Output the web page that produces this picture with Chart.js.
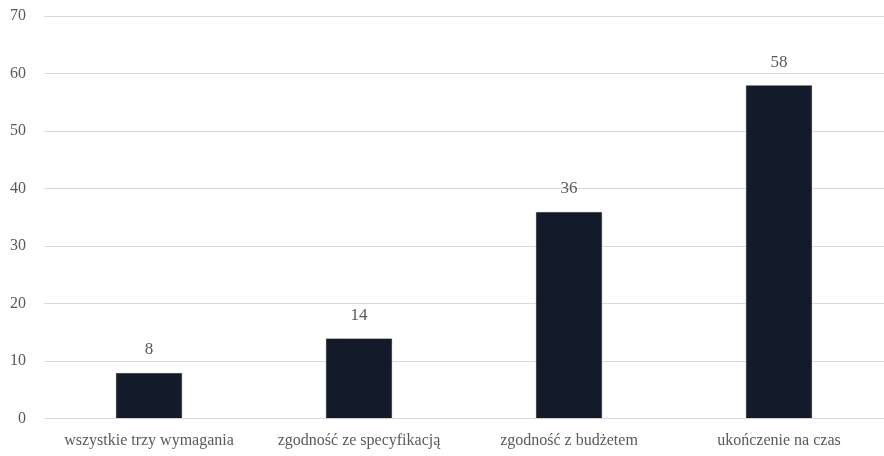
<!DOCTYPE html>
<html><head><meta charset="utf-8">
<script src="https://cdn.jsdelivr.net/npm/chart.js@4"></script>
<style>html,body{margin:0;padding:0;background:#fff}#w{width:884px;height:456px}</style>
</head><body><div id="w"><canvas id="c"></canvas></div>
<script>
const categories = ["wszystkie trzy wymagania", "zgodność ze specyfikacją", "zgodność z budżetem", "ukończenie na czas"];
const values = [8, 14, 36, 58];
const yTicks = [0, 10, 20, 30, 40, 50, 60, 70];

const FONT = "'Liberation Serif', serif";
const labelPlugin = {
  id: 'vlabels',
  afterDatasetsDraw(chart) {
    const ctx = chart.ctx;
    const meta = chart.getDatasetMeta(0);
    ctx.save();
    ctx.font = "17px " + FONT;
    ctx.fillStyle = "#595959";
    ctx.textAlign = "center";
    ctx.textBaseline = "middle";
    meta.data.forEach((bar, i) => {
      ctx.fillText(String(values[i]), bar.x, bar.y - 23);
    });
    ctx.restore();
  }
};

new Chart(document.getElementById('c'), {
  type: 'bar',
  data: {
    labels: categories,
    datasets: [{
      data: values,
      backgroundColor: '#131a2a',
      borderColor: '#9a9ca3',
      borderWidth: 0.6,
      categoryPercentage: 1,
      barPercentage: 0.318
    }]
  },
  options: {
    responsive: true,
    maintainAspectRatio: false,
    animation: false,
    layout: { padding: { top: 16, right: -3, bottom: -6, left: 0 } },
    plugins: { legend: { display: false }, tooltip: { enabled: false } },
    scales: {
      x: {
        grid: { display: false, drawTicks: false },
        border: { display: false },
        ticks: { color: '#595959', font: { family: FONT, size: 16 }, padding: 12, maxRotation: 0, autoSkip: false }
      },
      y: {
        min: 0, max: 70,
        afterFit(s) { s.width = 44; s.paddingTop = 0; },
        afterBuildTicks(s) { s.ticks = yTicks.map(v => ({ value: v })); },
        grid: { color: '#d9d9d9', drawTicks: false, lineWidth: 1 },
        border: { display: false },
        ticks: { color: '#595959', font: { family: FONT, size: 16 }, padding: 18 }
      }
    }
  },
  plugins: [labelPlugin]
});
</script></body></html>
